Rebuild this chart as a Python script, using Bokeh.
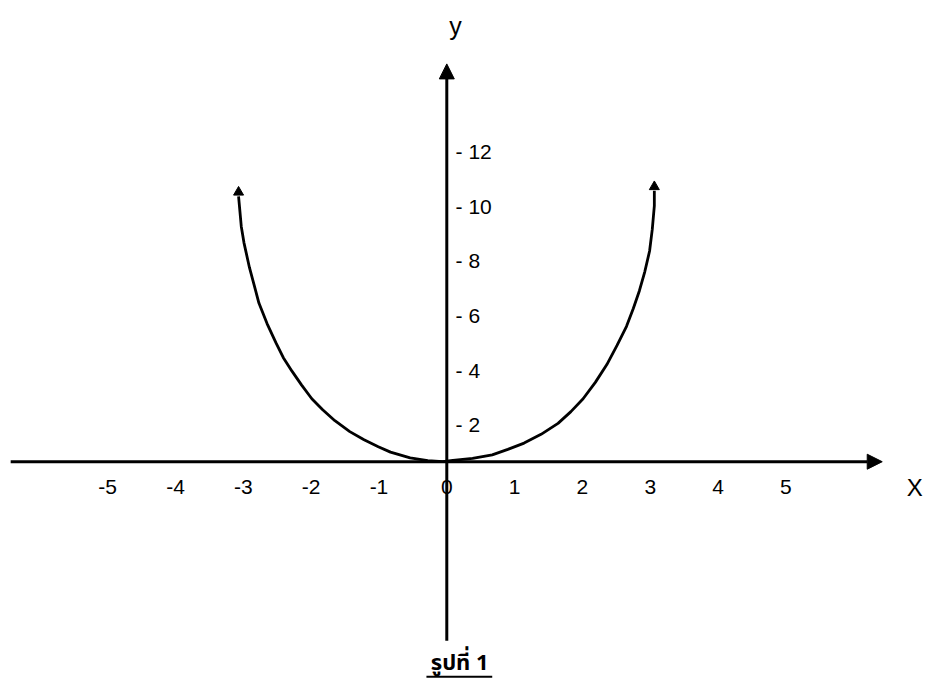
from bokeh.plotting import figure
from bokeh.models import Arrow, NormalHead, Range1d
from bokeh.core.properties import value
from bokeh.embed import file_html
from bokeh.resources import INLINE

# ---- data ----
curve_x = [-3.07, -3.05, -3.03, -2.99, -2.91, -2.84, -2.77, -2.65, -2.52, -2.41, -2.28,
           -2.14, -1.99, -1.83, -1.65, -1.43, -1.22, -1.01, -0.83, -0.54, -0.28, -0.06,
           0.09, 0.38, 0.67, 0.90, 1.14, 1.39, 1.64, 1.83, 2.01, 2.19, 2.36, 2.51, 2.65,
           2.75, 2.84, 2.92, 2.99, 3.03, 3.06, 3.06]
curve_y = [9.7, 9.15, 8.6, 8.0, 7.1, 6.45, 5.8, 5.05, 4.35, 3.8, 3.3,
           2.8, 2.3, 1.9, 1.5, 1.1, 0.8, 0.55, 0.35, 0.14, 0.04, 0.0,
           0.05, 0.12, 0.25, 0.45, 0.68, 1.0, 1.4, 1.83, 2.3, 2.9, 3.55, 4.25, 4.95,
           5.6, 6.25, 6.95, 7.7, 8.5, 9.35, 9.9]
x_ticks = [-5, -4, -3, -2, -1, 0, 1, 2, 3, 4, 5]
y_ticks = [2, 4, 6, 8, 10, 12]
x_tick_labels = [str(v) for v in x_ticks]
y_tick_labels = ["- " + str(v) for v in y_ticks]
caption = "รูปที่ 1"

p = figure(width=925, height=684, output_backend="svg", toolbar_location=None,
           x_range=Range1d(-6.58, 7.058), y_range=Range1d(-8.143, 16.857),
           min_border=0)
p.axis.visible = False
p.grid.visible = False
p.outline_line_color = None
p.background_fill_color = "white"

FONT = value("Liberation Sans")

# axes with arrowheads
p.add_layout(Arrow(end=NormalHead(size=15, fill_color="black", line_color="black"),
                   x_start=-6.43, y_start=0, x_end=6.42, y_end=0,
                   line_width=3, line_color="black"))
p.add_layout(Arrow(end=NormalHead(size=15, fill_color="black", line_color="black"),
                   x_start=0, y_start=-6.54, x_end=0, y_end=14.54,
                   line_width=3, line_color="black"))

# curve
p.line(curve_x, curve_y, line_width=2.8, line_color="black", line_join="round")
p.scatter([curve_x[0], curve_x[-1]], [curve_y[0] + 0.15, curve_y[-1] + 0.15],
          marker="triangle", size=10, fill_color="black", line_color="black")

# x tick labels
p.text(x=x_ticks, y=[0] * len(x_ticks), text=x_tick_labels, text_font=FONT,
       text_font_size="21px", text_align="center", text_baseline="middle",
       y_offset=25, text_color="black")
# y tick labels
p.text(x=[0.13] * len(y_ticks), y=y_ticks, text=y_tick_labels, text_font=FONT,
       text_font_size="21px", text_align="left", text_baseline="middle",
       y_offset=18, text_color="black")

# axis names
p.text(x=[6.90], y=[0], text=["X"], text_font=FONT, text_font_size="24px",
       text_align="center", text_baseline="middle", y_offset=26, text_color="black")
p.text(x=[0.13], y=[15.93], text=["y"], text_font=FONT, text_font_size="25px",
       text_align="center", text_baseline="middle", text_color="black")

# caption
p.text(x=[0.19], y=[-7.36], text=[caption], text_font=value("Noto Sans Thai"),
       text_font_size="22px", text_font_style="bold", text_align="center",
       text_baseline="middle", text_color="black")
p.segment(x0=[-0.30], y0=[-7.86], x1=[0.67], y1=[-7.86],
          line_width=2.2, line_color="black")

open("out.html", "w").write(file_html(p, INLINE))
